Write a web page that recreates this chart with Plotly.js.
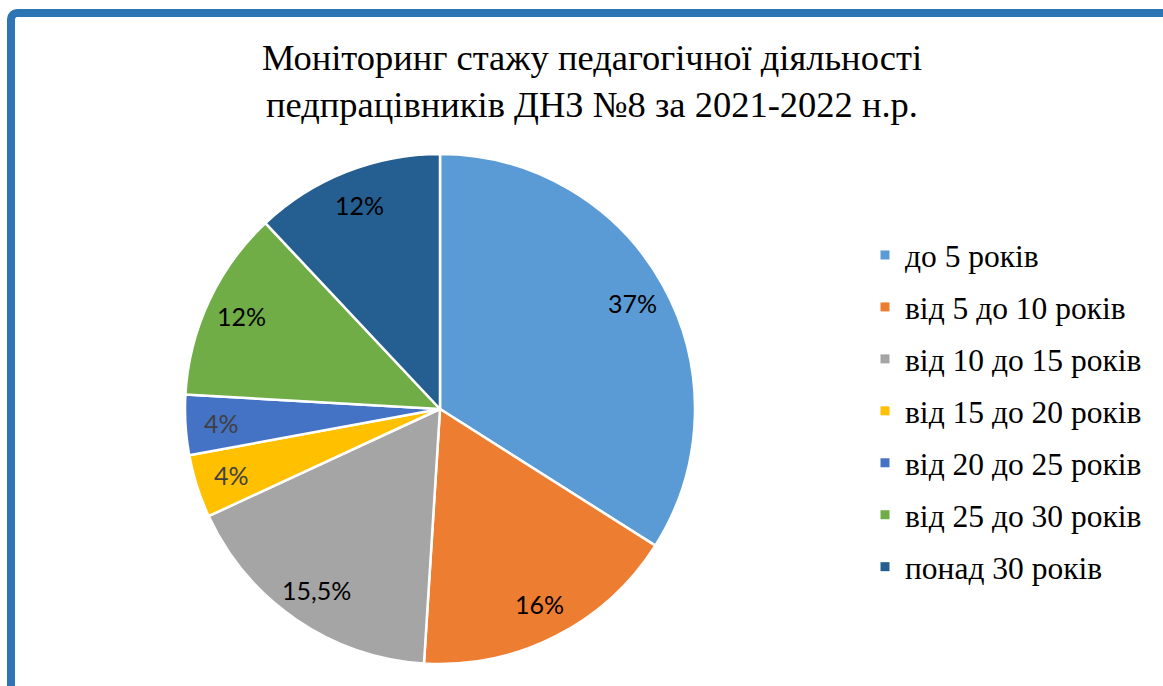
<!DOCTYPE html>
<html>
<head>
<meta charset="utf-8">
<script src="https://cdn.plot.ly/plotly-3.0.1.min.js"></script>
<style>
  html, body { margin: 0; padding: 0; background: #ffffff; }
  #wrap { position: relative; width: 1163px; height: 686px; overflow: hidden; }
  #chart { position: absolute; left: 0; top: 0; width: 1163px; height: 686px; }
  #frame { position: absolute; left: 7px; top: 9px; width: 1300px; height: 800px;
           border-top: 8px solid #2E75B6; border-left: 8px solid #2E75B6;
           border-top-left-radius: 10px; pointer-events: none; box-sizing: border-box; }
</style>
</head>
<body>
<div id="wrap">
  <div id="chart"></div>
  <div id="frame"></div>
</div>
<script>
const categories = ["до 5 років", "від 5 до 10 років", "від 10 до 15 років", "від 15 до 20 років",
                    "від 20 до 25 років", "від 25 до 30 років", "понад 30 років"];
const values = [34, 17, 17.1, 4, 3.8, 12.1, 12];
const labelTexts = ["37%", "16%", "15,5%", "4%", "4%", "12%", "12%"];
const colors = ["#5B9BD5", "#ED7D31", "#A5A5A5", "#FFC000", "#4472C4", "#70AD47", "#255E91"];
const labelColors = ["#000000", "#000000", "#000000", "#404040", "#404040", "#000000", "#000000"];
const titleText = "Моніторинг стажу педагогічної діяльності<br>педпрацівників ДНЗ №8 за 2021-2022 н.р.";

const W = 1163, H = 686;
const cx = 440, cy = 409, R = 255;
const serif = "Liberation Serif";

const traces = [{
  type: "pie",
  labels: categories,
  values: values,
  textinfo: "none",
  sort: false,
  direction: "clockwise",
  rotation: 0,
  showlegend: false,
  hoverinfo: "label+percent",
  marker: { colors: colors, line: { color: "#ffffff", width: 2.5 } },
  domain: { x: [(cx - R) / W, (cx + R) / W], y: [(H - cy - R) / H, (H - cy + R) / H] }
}];

categories.forEach((c, i) => {
  traces.push({
    type: "scatter",
    mode: "markers",
    x: [null], y: [null],
    name: c,
    legendgroup: "g" + i,
    marker: { symbol: "square", size: 9, color: colors[i] },
    hoverinfo: "skip",
    xaxis: "x", yaxis: "y"
  });
});

// data labels placed at each slice's mid-angle, derived from the values
const total = values.reduce((a, b) => a + b, 0);
let cum = 0;
const annotations = values.map((v, i) => {
  const mid = (cum + v / 2) / total * 2 * Math.PI;
  cum += v;
  const r = 0.86 * R;
  const px = cx + r * Math.sin(mid);
  const py = cy - r * Math.cos(mid);
  return {
    x: px / W, y: 1 - py / H, xref: "paper", yref: "paper",
    text: labelTexts[i], showarrow: false, xanchor: "center", yanchor: "middle",
    font: { family: "Lato", size: 25, color: labelColors[i] }
  };
});

const layout = {
  width: W, height: H,
  margin: { l: 0, r: 0, t: 0, b: 0 },
  paper_bgcolor: "rgba(0,0,0,0)",
  plot_bgcolor: "rgba(0,0,0,0)",
  title: {
    text: titleText,
    font: { family: serif, size: 36.5, color: "#000000" },
    x: 592 / W, xanchor: "center",
    y: 1 - 70 / H, yanchor: "middle",
    xref: "paper", yref: "container"
  },
  annotations: annotations,
  xaxis: { visible: false, domain: [0.8, 0.81] },
  yaxis: { visible: false, domain: [0.8, 0.81] },
  showlegend: true,
  legend: {
    x: 865 / W, xanchor: "left",
    y: 1 - 228 / H, yanchor: "top",
    font: { family: serif, size: 31.5, color: "#000000" },
    tracegroupgap: 8,
    itemclick: false, itemdoubleclick: false,
    bgcolor: "rgba(0,0,0,0)"
  }
};

Plotly.newPlot("chart", traces, layout, { displayModeBar: false, staticPlot: true });
</script>
</body>
</html>
